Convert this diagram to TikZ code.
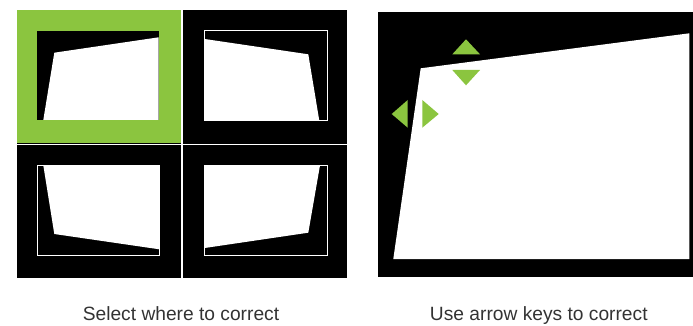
\documentclass[tikz,border=0pt]{standalone}
\usepackage{fontspec}
\setmainfont{Liberation Sans}
\usetikzlibrary{positioning}

\begin{document}
\begin{tikzpicture}[x=1pt,y=-1pt,
    caption/.style={anchor=base,font=\fontsize{19.2}{22}\selectfont,text=black!80}]
    % Colores
    \definecolor{keygreen}{HTML}{8BC53F}

    \useasboundingbox (0,0) rectangle (693,326);

    % Cuadricula de esquinas
    \fill[black] (17.3,10) rectangle (346.7,277.7);
    \fill[keygreen] (17.3,10) rectangle (181,143.2);
    \draw[white,line width=1.6] (182,10) -- (182,277.7);
    \draw[white,line width=1.6] (17.3,144.5) -- (346.7,144.5);

    % Esquina superior izquierda
    \fill[black] (37.3,31) rectangle (158.7,120);
    \fill[white] (43.3,120) -- (54.3,52.7) -- (158.7,37.3) -- (158.7,120) -- cycle;

    % Esquina superior derecha
    \draw[white,line width=1] (204.7,30.7) rectangle (327.3,120.7);
    \fill[white] (204.7,39) -- (308.3,54.3) -- (319.3,120.7) -- (204.7,120.7) -- cycle;

    % Esquina inferior izquierda
    \draw[white,line width=1] (37.3,165.3) rectangle (159.3,255.7);
    \fill[white] (43.3,165.3) -- (159.3,165.3) -- (159.3,249.3) -- (54.3,234) -- cycle;

    % Esquina inferior derecha
    \draw[white,line width=1] (204.7,165.3) rectangle (327.3,255.7);
    \fill[white] (204.7,165.3) -- (320,165.3) -- (308.3,232.7) -- (204.7,248) -- cycle;

    % Vista ampliada
    \fill[black] (378.3,11.7) rectangle (693,276.7);
    \fill[white] (393.3,259) -- (420.7,68.3) -- (689.3,33.3) -- (689.3,259) -- cycle;

    % Teclas de flecha
    \fill[keygreen] (466,39.3) -- (480,54.3) -- (452.3,54.3) -- cycle;
    \fill[keygreen] (452.3,70) -- (480,70) -- (466,85.3) -- cycle;
    \fill[keygreen] (391.7,114) -- (407.7,100) -- (407.7,127.7) -- cycle;
    \fill[keygreen] (422.3,100) -- (438.7,114) -- (422.3,127.7) -- cycle;

    % Textos
    \node[caption] (select) at (181,320.5) {Select where to correct};
    \node[caption] (arrows) at (538.8,320.5) {Use arrow keys to correct};

\end{tikzpicture}
\end{document}
